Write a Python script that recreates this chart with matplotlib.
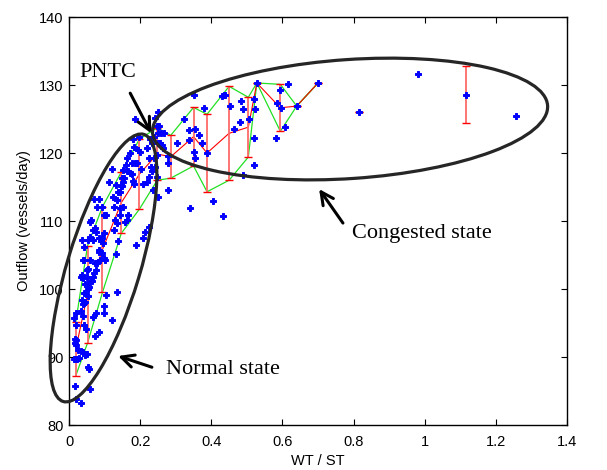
import numpy as np
import matplotlib
matplotlib.use("Agg")
import matplotlib.pyplot as plt
from matplotlib.patches import Ellipse
from matplotlib.transforms import ScaledTranslation
from matplotlib.ticker import FuncFormatter

# observed samples: WT/ST ratio and outflow (vessels/day)
wt_st = [
    0.017, 0.020, 0.033, 0.059, 0.054, 0.057, 0.050, 0.045, 0.014, 0.020,
    0.023, 0.028, 0.033, 0.038, 0.026, 0.017, 0.019, 0.017, 0.019, 0.014,
    0.020, 0.019, 0.033, 0.043, 0.048, 0.040, 0.038, 0.042, 0.045, 0.036,
    0.045, 0.042, 0.054, 0.052, 0.057, 0.059, 0.068, 0.064, 0.071, 0.076,
    0.073, 0.054, 0.050, 0.059, 0.042, 0.038, 0.033, 0.036, 0.040, 0.045,
    0.050, 0.036, 0.042, 0.054, 0.059, 0.059, 0.061, 0.068, 0.073, 0.068,
    0.076, 0.085, 0.089, 0.085, 0.083, 0.078, 0.087, 0.092, 0.097, 0.101,
    0.095, 0.092, 0.098, 0.097, 0.104, 0.092, 0.080, 0.085, 0.070,
    0.068, 0.076, 0.084, 0.073, 0.097, 0.099, 0.104, 0.134, 0.120,
    0.111, 0.122, 0.127, 0.125, 0.132, 0.139, 0.143, 0.136, 0.142, 0.143,
    0.129, 0.134, 0.127, 0.139, 0.132, 0.162, 0.167, 0.158, 0.153, 0.146,
    0.150, 0.148, 0.153, 0.162, 0.167, 0.172, 0.176, 0.179, 0.183, 0.151,
    0.155, 0.159, 0.164, 0.172, 0.176, 0.186, 0.190, 0.195, 0.200, 0.202,
    0.207, 0.181, 0.197, 0.183, 0.188, 0.209, 0.214, 0.226, 0.220, 0.225,
    0.218, 0.230, 0.226, 0.233, 0.247, 0.240, 0.242, 0.247, 0.251, 0.237,
    0.186, 0.228, 0.233, 0.239, 0.243, 0.249, 0.247, 0.254, 0.251, 0.258,
    0.256, 0.261, 0.265, 0.251, 0.268, 0.277, 0.278, 0.279, 0.303, 0.323,
    0.338, 0.338, 0.340, 0.350, 0.354, 0.350, 0.354, 0.364, 0.373, 0.380,
    0.387, 0.406, 0.434, 0.431, 0.437, 0.439, 0.453, 0.465, 0.481, 0.484,
    0.488, 0.489, 0.506, 0.519, 0.523, 0.519, 0.521, 0.528, 0.584, 0.582,
    0.594, 0.595, 0.606, 0.615, 0.640, 0.699, 0.814, 0.980, 1.117, 1.257,
]
outflow = [
    85.7, 83.8, 83.3, 85.3, 88.6, 88.3, 90.4, 90.3, 89.7, 89.7,
    89.7, 89.8, 90.9, 90.7, 91.0, 92.0, 92.5, 92.7, 91.8, 95.7,
    96.4, 94.7, 96.8, 94.7, 94.1, 96.0, 97.8, 98.0, 98.1, 98.4,
    99.4, 99.4, 98.9, 100.0, 100.3, 101.1, 101.8, 101.2, 102.4, 102.8,
    103.8, 102.9, 102.8, 104.3, 104.2, 104.3, 101.8, 102.0, 101.6, 100.8,
    101.8, 107.2, 106.2, 107.2, 107.7, 109.9, 110.2, 108.7, 108.9, 107.2,
    108.4, 107.5, 107.0, 105.7, 105.5, 103.8, 104.3, 105.3, 104.5, 104.3,
    106.7, 107.5, 108.2, 110.9, 110.9, 112.1, 112.1, 113.3, 113.3,
    95.9, 96.4, 93.7, 93.1, 96.4, 97.5, 99.1, 99.6, 95.4,
    115.8, 117.6, 112.1, 113.6, 115.3, 114.3, 114.3, 113.1, 111.9, 110.9,
    110.2, 109.7, 108.7, 107.1, 105.2, 110.2, 110.9, 109.9, 112.1, 115.1,
    115.1, 116.3, 117.5, 117.3, 117.3, 117.0, 116.9, 115.9, 115.5, 115.8,
    116.3, 118.2, 119.2, 120.0, 118.5, 118.5, 118.5, 120.4, 120.2, 117.7,
    115.5, 122.1, 122.4, 120.9, 106.5, 107.5, 108.4, 109.1, 115.8, 119.2,
    120.7, 118.0, 116.5, 117.4, 119.7, 119.2, 118.0, 116.5, 113.6, 114.6,
    125.0, 122.1, 121.4, 122.3, 125.2, 126.0, 123.9, 123.9, 122.9, 122.9,
    121.4, 121.2, 120.8, 121.4, 122.9, 114.5, 118.5, 119.5, 121.4, 125.0,
    123.4, 121.9, 111.9, 128.6, 123.6, 120.2, 119.2, 122.6, 121.5, 126.6,
    120.0, 113.0, 110.8, 128.4, 128.6, 128.6, 126.9, 123.6, 124.6, 127.6,
    126.5, 116.7, 125.0, 127.9, 126.5, 122.2, 118.2, 130.3, 127.4, 122.2,
    129.2, 126.6, 123.8, 130.2, 126.9, 130.3, 126.0, 131.6, 128.6, 125.5,
]

# binned mean +/- std (nan = empty bin, breaks the lines)
bin_x = [0.019, 0.052, 0.094, 0.147, 0.198, 0.248, 0.286, 0.350, 0.388, 0.450,
         0.504, 0.528, 0.594, 0.640, 0.700, 0.757, 0.814, 0.960, 1.117]
bin_mean = [91.2, 99.2, 105.8, 112.7, 116.9, 119.85, 119.45, 122.4, 120.0, 122.9,
            123.8, 130.3, 126.65, 126.9, 130.3, np.nan, 126.0, np.nan, 128.6]
bin_std = [3.95, 7.15, 6.3, 4.5, 5.15, 3.85, 3.15, 4.3, 5.7, 6.9,
           4.4, 0.0, 3.45, 0.0, 0.0, np.nan, 0.0, np.nan, 4.2]

bx = np.array(bin_x)
bm = np.array(bin_mean)
bs = np.array(bin_std)

fig = plt.figure(figsize=(6.07, 4.70), dpi=100)
ax = fig.add_axes([0.1137, 0.0957, 0.8205, 0.8681])

# upper / lower envelopes
ax.plot(bx, bm + bs, color='#22e022', lw=0.9, zorder=2)
ax.plot(bx, bm - bs, color='#22e022', lw=0.9, zorder=2)
# mean line and error bars
ax.plot(bx, bm, color='#ff0000', lw=0.8, zorder=3)
eb = ax.errorbar(bx, bm, yerr=bs, fmt='none', ecolor='#ff0000',
                 elinewidth=1.3, capsize=3, capthick=1.0, zorder=3)
for lc in eb[2]:
    lc.set_color('#ff6a6a')

# samples
ax.plot(wt_st, outflow, linestyle='none', marker='P', markersize=4.5,
        color='#0000ff', markeredgewidth=0.7, zorder=4)

ax.set_xlim(0, 1.4)
ax.set_ylim(80, 140)
ax.set_xticks(np.arange(0, 1.41, 0.2))
ax.set_yticks(np.arange(80, 141, 10))
ax.xaxis.set_major_formatter(FuncFormatter(lambda v, p: '%g' % round(v, 1)))

sans = 'Liberation Sans'
ax.tick_params(direction='in', top=True, right=True, length=4, width=0.8,
               labelsize=10.5)
ax.tick_params(axis='x', pad=7)
ax.tick_params(axis='y', pad=4)
for lab in ax.get_xticklabels() + ax.get_yticklabels():
    lab.set_fontfamily(sans)
for sp in ax.spines.values():
    sp.set_linewidth(1.0)

ax.set_xlabel('WT / ST', fontsize=10.5, fontfamily=sans, labelpad=4)
ax.set_ylabel('Outflow (vessels/day)', fontsize=10.5, fontfamily=sans, labelpad=6)

# ellipses around the two regimes (sizes in inches, centred in data units)
def ring(cx, cy, w, h, ang):
    tr = fig.dpi_scale_trans + ScaledTranslation(cx, cy, ax.transData)
    e = Ellipse((0, 0), w, h, angle=ang, transform=tr, fill=False,
                edgecolor='#262626', lw=2.3, clip_on=False, zorder=6)
    ax.add_artist(e)

ring(0.097, 103.1, 2.79, 0.73, 73.2)
ring(0.790, 125.0, 3.96, 1.19, 3.9)

serif = 'Liberation Serif'
arrow = dict(arrowstyle='->, head_length=0.9, head_width=0.45',
             color='black', lw=2.2, shrinkA=0, shrinkB=0)
ax.annotate('', xy=(0.231, 122.9), xytext=(0.172, 128.8),
            arrowprops=arrow, annotation_clip=False, zorder=7)
ax.annotate('', xy=(0.703, 114.7), xytext=(0.770, 109.7),
            arrowprops=arrow, annotation_clip=False, zorder=7)
ax.annotate('', xy=(0.138, 90.15), xytext=(0.233, 88.5),
            arrowprops=arrow, annotation_clip=False, zorder=7)

ax.text(0.030, 131.9, 'PNTC', fontsize=16, fontfamily=serif, va='center', zorder=7)
ax.text(0.795, 108.1, 'Congested state', fontsize=16, fontfamily=serif,
        va='center', zorder=7)
ax.text(0.273, 88.1, 'Normal state', fontsize=16, fontfamily=serif,
        va='center', zorder=7)

fig.savefig('out.png', dpi=100)
